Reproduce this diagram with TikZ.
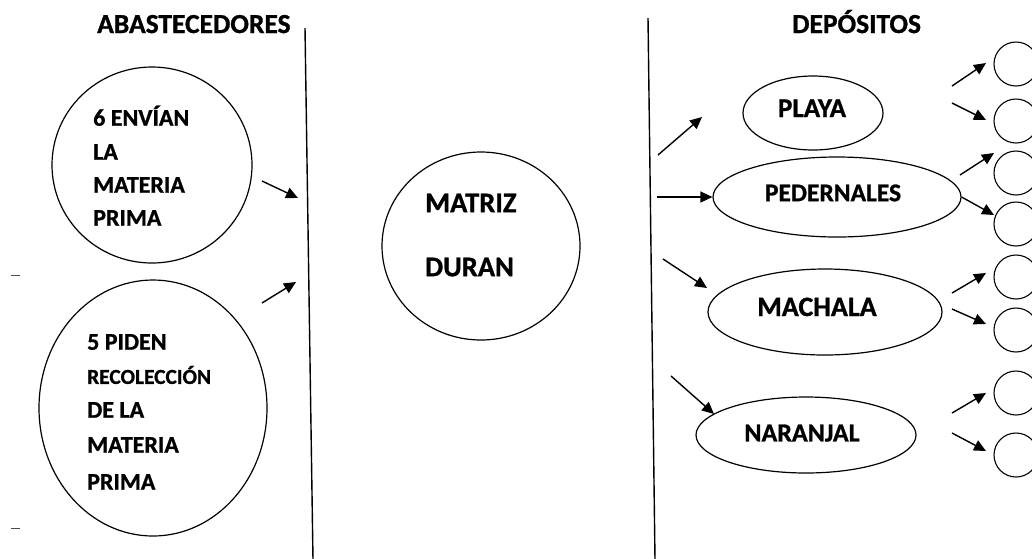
\documentclass[tikz,border=0pt]{standalone}
\usepackage{fontspec}
\setmainfont{Carlito}[BoldFeatures={FakeBold=1}]
\usetikzlibrary{arrows.meta,shapes.geometric}
\begin{document}
\begin{tikzpicture}[x=1pt,y=-1pt,
  oval/.style={draw,ellipse,line width=1.2pt,inner sep=0pt},
  leaf/.style={draw,circle,line width=1.1pt,minimum size=44pt,inner sep=0pt},
  lbl/.style={font=\bfseries\fontsize{#1}{#1}\selectfont,inner sep=0pt},
  flow/.style={line width=1.4pt,-{Triangle[length=12pt,width=11pt]}},
  divider/.style={line width=1.4pt},
  tick/.style={line width=0.7pt,black!70}]
  \clip (0,0) rectangle (1032,558);
  \fill[white] (0,0) rectangle (1032,558);

  % column dividers
  \coordinate (d1t) at (305,28);  \coordinate (d1b) at (313,560);
  \coordinate (d2t) at (648,18);  \coordinate (d2b) at (655,560);
  \draw[divider] (d1t) -- (d1b);
  \draw[divider] (d2t) -- (d2b);

  % headings
  \node[lbl=27.5,anchor=base west] (hsup) at (97,33) {ABASTECEDORES};
  \node[lbl=27.5,anchor=base west] (hdep) at (792,33) {DEPÓSITOS};

  % suppliers
  \node[oval,minimum width=200pt,minimum height=196pt] (sup1) at (152,165) {};
  \node[lbl=24,anchor=base west] (s1a) at (93,125.7) {6 ENVÍAN};
  \node[lbl=24,anchor=base west] (s1b) at (93,159.7) {LA};
  \node[lbl=24,anchor=base west] (s1c) at (93,192.7) {MATERIA};
  \node[lbl=24,anchor=base west] (s1d) at (93,225.7) {PRIMA};

  \node[oval,minimum width=228pt,minimum height=256pt] (sup2) at (153,408) {};
  \node[lbl=24,anchor=base west] (s2a) at (87,349.7) {5 PIDEN};
  \node[lbl=21.4,anchor=base west] (s2b) at (87,383.9) {RECOLECCIÓN};
  \node[lbl=24,anchor=base west] (s2c) at (87,417.7) {DE LA};
  \node[lbl=24,anchor=base west] (s2d) at (87,452.7) {MATERIA};
  \node[lbl=24,anchor=base west] (s2e) at (87,489.7) {PRIMA};

  \coordinate (a1s) at (262,181); \coordinate (a1e) at (298,198);
  \coordinate (a2s) at (262,303); \coordinate (a2e) at (296,282);
  \draw[flow] (a1s) -- (a1e);
  \draw[flow] (a2s) -- (a2e);

  % stray marks in the left margin
  \coordinate (m1a) at (11,275); \coordinate (m1b) at (20,275);
  \coordinate (m2a) at (11,528); \coordinate (m2b) at (20,528);
  \draw[tick] (m1a) -- (m1b);
  \draw[tick] (m2a) -- (m2b);

  % head office
  \node[oval,minimum width=198pt,minimum height=188pt] (hq) at (481,246) {};
  \node[lbl=28.5,anchor=base west] (hq1) at (425,212.2) {MATRIZ};
  \node[lbl=28.5,anchor=base west] (hq2) at (425,276.2) {DURAN};

  % depots
  \node[oval,minimum width=140pt,minimum height=74pt] (playa) at (813,113) {};
  \node[lbl=27,anchor=base] (playaT) at (812,117) {PLAYA};
  \node[oval,minimum width=248pt,minimum height=80pt] (ped) at (837,197) {};
  \node[lbl=25.5,anchor=base] (pedT) at (833,201.2) {PEDERNALES};
  \node[oval,minimum width=234pt,minimum height=86pt] (mach) at (825,312) {};
  \node[lbl=28,anchor=base] (machT) at (817,316) {MACHALA};
  \node[oval,minimum width=220pt,minimum height=76pt] (nar) at (806,435) {};
  \node[lbl=26,anchor=base] (narT) at (802,441.4) {NARANJAL};

  \coordinate (b1s) at (658,155); \coordinate (b1e) at (702,117);
  \coordinate (b2s) at (657,197);
  \coordinate (b3s) at (663,259); \coordinate (b3e) at (707,288);
  \coordinate (b4s) at (671,376); \coordinate (b4e) at (714,414);
  \draw[flow] (b1s) -- (b1e);
  \draw[flow] (b2s) -- (ped.west);
  \draw[flow] (b3s) -- (b3e);
  \draw[flow] (b4s) -- (b4e);

  % destinations
  \node[leaf] (c1) at (1016,64) {};
  \node[leaf] (c2) at (1016,121) {};
  \node[leaf] (c3) at (1016,173) {};
  \node[leaf] (c4) at (1016,224) {};
  \node[leaf] (c5) at (1016,277) {};
  \node[leaf] (c6) at (1016,330) {};
  \node[leaf] (c7) at (1016,393) {};
  \node[leaf] (c8) at (1016,455) {};

  \coordinate (e1s) at (952,86);  \coordinate (e1e) at (986,63);
  \coordinate (e2s) at (952,103); \coordinate (e2e) at (986,120);
  \coordinate (e3s) at (960,175); \coordinate (e3e) at (994,153);
  \coordinate (e4e) at (994,215);
  \coordinate (e5s) at (952,293); \coordinate (e5e) at (986,273);
  \coordinate (e6s) at (952,309); \coordinate (e6e) at (986,324);
  \coordinate (e7s) at (952,413); \coordinate (e7e) at (986,393);
  \coordinate (e8s) at (952,433); \coordinate (e8e) at (986,451);
  \draw[flow] (e1s) -- (e1e);
  \draw[flow] (e2s) -- (e2e);
  \draw[flow] (e3s) -- (e3e);
  \draw[flow] (ped.east) -- (e4e);
  \draw[flow] (e5s) -- (e5e);
  \draw[flow] (e6s) -- (e6e);
  \draw[flow] (e7s) -- (e7e);
  \draw[flow] (e8s) -- (e8e);
\end{tikzpicture}
\end{document}
